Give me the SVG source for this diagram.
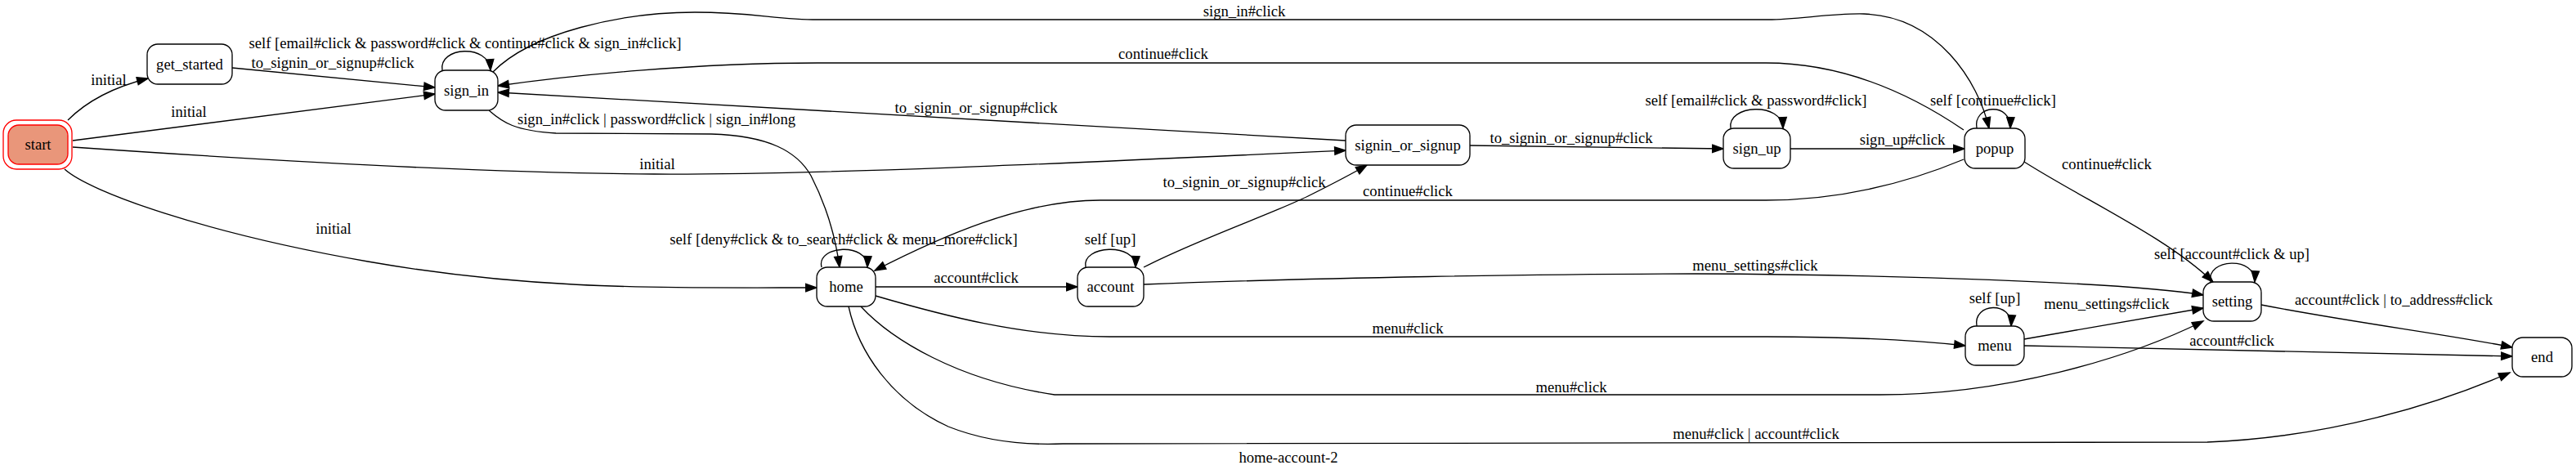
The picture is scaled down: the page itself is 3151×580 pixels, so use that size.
<svg xmlns="http://www.w3.org/2000/svg" width="3151" height="580" viewBox="0 0 3151 580">
<style>
text{font-family:"Liberation Serif","Times New Roman",serif;font-size:18.67px;fill:#000;text-anchor:middle}
.n rect{fill:#fff;stroke:#000;stroke-width:1.33}
.e path{fill:none;stroke:#000;stroke-width:1.33;marker-end:url(#a)}
</style>
<defs>
<marker id="a" markerUnits="userSpaceOnUse" markerWidth="15" markerHeight="11" refX="13.3" refY="4.7" orient="auto" overflow="visible">
<path d="M0,0 L13.3,4.7 L0,9.4 Z" fill="#000" stroke="#000" stroke-width="1.33"/>
</marker>
</defs>
<rect width="3151" height="580" fill="#fff"/>
<g id="connectors" class="e">
<path d="M83,147 C110,120 145,105 181,96"/>
<path d="M89,172 L532,115"/>
<path d="M284,83 L532,107"/>
<path d="M89,180 C350,198 600,212 800,213 S1300,200 1646,184"/>
<path d="M79,207 C110,235 250,285 450,320 S800,352 999,352"/>
<path d="M541,86 C536,57 598,53 600,86"/>
<path d="M603,88 C650,40 760,15 850,15 C920,15 950,24 1000,24 L2163,24 C2200,24 2240,16 2280,17 C2370,20 2420,100 2433,157"/>
<path d="M2402,159 C2330,110 2250,77 2160,77 L1000,77 C850,77 700,92 609,105"/>
<path d="M1646,172 L609,113"/>
<path d="M598,135 C615,150 630,160 680,163 L870,164 C940,166 975,185 992,215 C1010,250 1022,290 1027,327"/>
<path d="M1798,178 L2108,182"/>
<path d="M2117,157 C2112,128 2180,124 2181,157"/>
<path d="M2190,182 L2403,182"/>
<path d="M2418,157 C2413,128 2460,124 2459,157"/>
<path d="M2476,198 C2550,245 2650,290 2707,345"/>
<path d="M2402,195 C2330,225 2250,245 2160,245 L1346,245 C1250,245 1150,290 1070,331"/>
<path d="M1005,327 C998,300 1062,296 1061,327"/>
<path d="M1071,351 L1318,351"/>
<path d="M1328,327 C1322,300 1390,296 1389,327"/>
<path d="M1399,327 C1460,295 1560,260 1600,240 C1630,225 1655,212 1672,202"/>
<path d="M1399,348 C1600,340 1900,335 2074,335 C2300,336 2600,345 2695,361"/>
<path d="M1071,362 C1150,385 1250,412 1357,412 L2161,412 C2250,412 2340,416 2404,423"/>
<path d="M1053,375 C1090,415 1170,465 1290,483 L2300,483 C2450,483 2600,440 2695,393"/>
<path d="M1038,375 C1050,430 1090,490 1160,522 C1200,538 1250,545 1300,543 L2700,541 C2850,535 2980,495 3070,456"/>
<path d="M2418,399 C2413,370 2462,368 2460,399"/>
<path d="M2476,415 L2695,377"/>
<path d="M2476,423 L3073,436"/>
<path d="M2704,345 C2698,316 2760,313 2758,345"/>
<path d="M2766,373 C2880,395 3000,410 3073,425"/>
</g>
<g id="edge-labels">
<text x="133" y="104">initial</text>
<text x="231" y="143">initial</text>
<text x="407" y="83">to_signin_or_signup#click</text>
<text x="804" y="207">initial</text>
<text x="408" y="286">initial</text>
<text x="569" y="59">self [email#click &amp; password#click &amp; continue#click &amp; sign_in#click]</text>
<text x="1522" y="20">sign_in#click</text>
<text x="1423" y="72">continue#click</text>
<text x="1194" y="138">to_signin_or_signup#click</text>
<text x="803" y="152">sign_in#click | password#click | sign_in#long</text>
<text x="1922" y="175">to_signin_or_signup#click</text>
<text x="2148" y="129">self [email#click &amp; password#click]</text>
<text x="2327" y="177">sign_up#click</text>
<text x="2438" y="129">self [continue#click]</text>
<text x="2577" y="207">continue#click</text>
<text x="1722" y="240">continue#click</text>
<text x="1032" y="299">self [deny#click &amp; to_search#click &amp; menu_more#click]</text>
<text x="1194" y="346">account#click</text>
<text x="1358" y="299">self [up]</text>
<text x="1522" y="229">to_signin_or_signup#click</text>
<text x="2147" y="331">menu_settings#click</text>
<text x="1722" y="408">menu#click</text>
<text x="1922" y="480">menu#click</text>
<text x="2148" y="537">menu#click | account#click</text>
<text x="2440" y="371">self [up]</text>
<text x="2577" y="378">menu_settings#click</text>
<text x="2730" y="423">account#click</text>
<text x="2730" y="317">self [account#click &amp; up]</text>
<text x="2928" y="373">account#click | to_address#click</text>
</g>
<g id="start" class="n">
<rect x="4" y="147" width="84" height="60" rx="16" style="fill:none;stroke:#ff0000"/>
<rect x="10" y="153" width="73" height="48" rx="13" style="fill:#e9967a;stroke:#ff0000"/>
<text x="46.5" y="183">start</text>
</g>
<g id="get_started" class="n"><rect x="180" y="54" width="104" height="49" rx="13"/><text x="232" y="84.5">get_started</text></g>
<g id="sign_in" class="n"><rect x="532" y="86" width="77" height="49" rx="13"/><text x="570.5" y="116.5">sign_in</text></g>
<g id="signin_or_signup" class="n"><rect x="1646" y="153" width="152" height="49" rx="13"/><text x="1722" y="183.5">signin_or_signup</text></g>
<g id="sign_up" class="n"><rect x="2108" y="157" width="82" height="49" rx="13"/><text x="2149" y="187.5">sign_up</text></g>
<g id="popup" class="n"><rect x="2403" y="157" width="74" height="49" rx="13"/><text x="2440" y="187.5">popup</text></g>
<g id="home" class="n"><rect x="999" y="327" width="72" height="48" rx="13"/><text x="1035" y="357">home</text></g>
<g id="account" class="n"><rect x="1318" y="327" width="81" height="48" rx="13"/><text x="1358.5" y="357">account</text></g>
<g id="setting" class="n"><rect x="2695" y="345" width="71" height="48" rx="13"/><text x="2730.5" y="375">setting</text></g>
<g id="menu" class="n"><rect x="2404" y="399" width="72" height="48" rx="13"/><text x="2440" y="429">menu</text></g>
<g id="end" class="n"><rect x="3073" y="413" width="73" height="48" rx="13"/><text x="3109.5" y="443">end</text></g>
<text x="1576" y="566">home-account-2</text>
</svg>
